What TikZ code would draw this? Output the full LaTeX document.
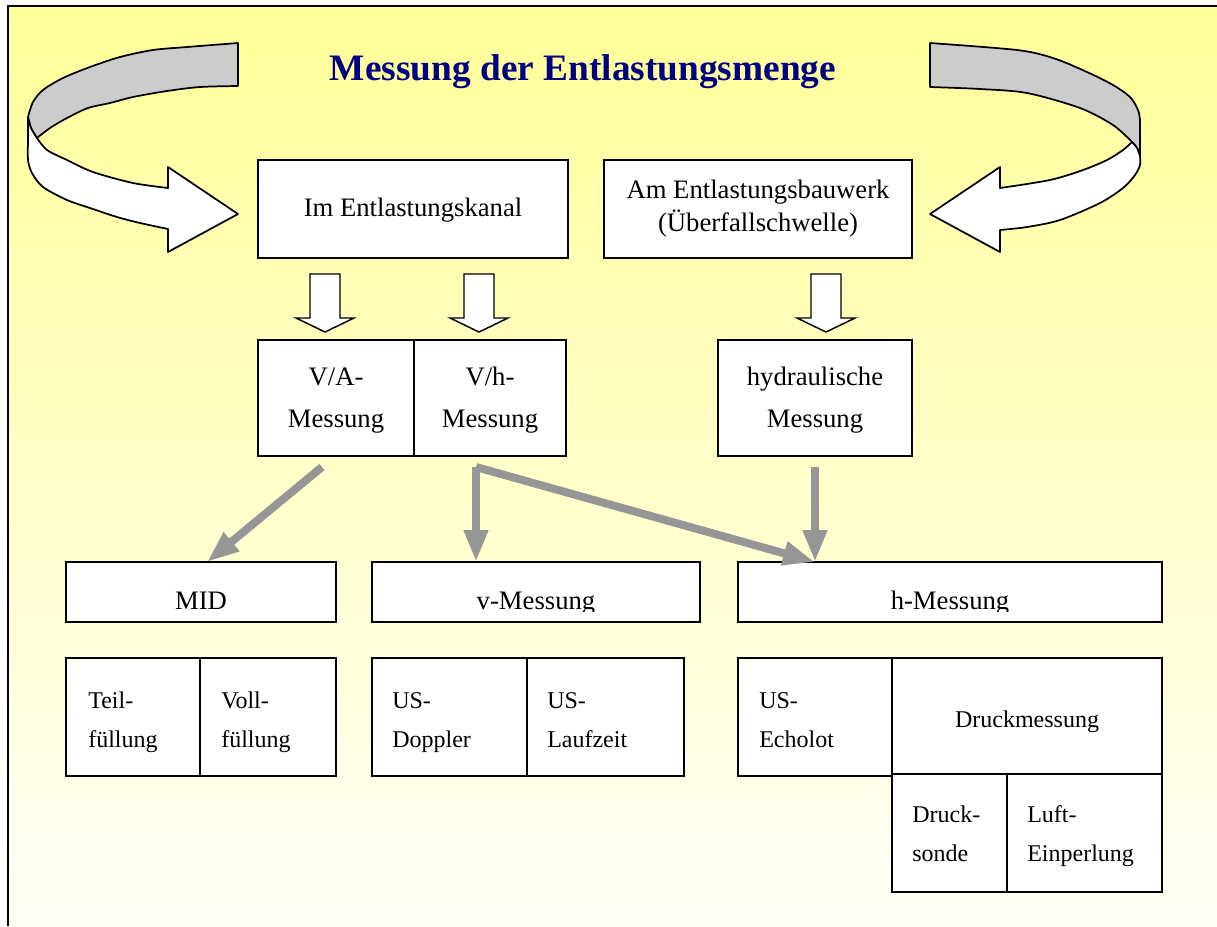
\documentclass[tikz,border=0pt]{standalone}
\usepackage{fontspec}
\setmainfont{Liberation Serif}
\usetikzlibrary{arrows.meta,calc}
\definecolor{bgtop}{HTML}{FFFF99}
\definecolor{bgbot}{HTML}{FFFFF8}
\definecolor{ribbon}{HTML}{CCCCCC}
\definecolor{arrowgray}{HTML}{969696}
\definecolor{titleblue}{HTML}{000080}
\begin{document}
\begin{tikzpicture}[x=0.75pt,y=-0.75pt,
 bx/.style 2 args={draw, fill=white, line width=1.1pt, inner sep=0pt, outer sep=0pt, minimum width=#1*0.75pt, minimum height=#2*0.75pt},
 big/.style={font=\fontsize{20}{24}\selectfont, inner sep=0pt, anchor=base},
 small/.style={font=\fontsize{18}{22}\selectfont, inner sep=0pt, anchor=base west},
 smallc/.style={font=\fontsize{18}{22}\selectfont, inner sep=0pt, anchor=base},
 grayarrow/.style={draw=arrowgray, line width=6pt, -{Triangle[length=24pt,width=17pt]}},
 blockarrow/.style={draw=black, fill=white, line width=1.1pt, line join=miter},
 ribbonline/.style={draw=black, line width=1.3pt, line join=round}
]
\useasboundingbox (0,0) rectangle (1217,926);
\fill[white] (0,0) rectangle (1217,926);
\shade[top color=bgtop, bottom color=bgbot] (8,6) rectangle (1217,926);
\draw[line width=1.5pt] (8,926) -- (8,6) -- (1217,6);

% left ribbon arrow
\draw[ribbonline, fill=ribbon] (238,43) -- (238,86)
 -- plot[smooth] coordinates {(238,86) (200,87) (167,91) (133,97) (110,103) (88,108) (67,118) (50,128) (37,138)}
 -- plot[smooth] coordinates {(37,138) (31,128) (28,117)}
 -- plot[smooth] coordinates {(28,117) (33,102) (43,90) (63,78) (90,67) (120,57) (153,50) (187,47) (238,43)}
 -- cycle;
\draw[ribbonline, fill=white] (28,117)
 -- plot[smooth] coordinates {(28,117) (28,140) (28,160) (32,173) (43,187) (67,200) (90,208) (117,217) (140,223) (168,229)}
 -- (168,252) -- (238,214) -- (168,167) -- (168,188)
 -- plot[smooth] coordinates {(168,188) (133,183) (93,172) (67,160) (47,150) (37,138)}
 -- plot[smooth] coordinates {(37,138) (31,128) (28,117)}
 -- cycle;

% right ribbon arrow
\draw[ribbonline, fill=ribbon] (930,43) -- (930,87)
 -- plot[smooth] coordinates {(930,87) (980,89) (1027,93) (1080,108) (1113,125) (1132,142)}
 -- plot[smooth] coordinates {(1132,142) (1137,148) (1140,156)}
 -- (1140,120)
 -- plot[smooth] coordinates {(1140,120) (1138,110) (1130,97) (1113,85) (1087,72) (1053,58) (1017,50) (930,43)}
 -- cycle;
\draw[ribbonline, fill=white] (1132,142)
 -- plot[smooth] coordinates {(1132,142) (1137,148) (1140,156)}
 -- plot[smooth] coordinates {(1140,156) (1140,165) (1135,175) (1123,188) (1100,203) (1060,220) (1027,227) (1000,230)}
 -- (1000,252) -- (930,214) -- (1000,167) -- (1000,188)
 -- plot[smooth] coordinates {(1000,188) (1050,180) (1083,170) (1107,160) (1123,150) (1132,142)}
 -- cycle;

% title
\node[font=\bfseries\fontsize{28}{34}\selectfont, text=titleblue, inner sep=0pt, anchor=base] (title) at (583,80) {Messung der Entlastungsmenge};

% boxes
\node[bx={310}{98}] (im) at (413,209) {};
\node[bx={308}{98}] (am) at (758,209) {};
\node[bx={156}{116}] (va) at (336,398) {};
\node[bx={152}{116}] (vh) at (490,398) {};
\node[bx={194}{116}] (hyd) at (815,398) {};
\node[bx={270}{60}] (mid) at (201,592) {};
\node[bx={328}{60}] (vmess) at (536,592) {};
\node[bx={424}{60}] (hmess) at (950,592) {};
\node[bx={134}{118}] (teil) at (133,717) {};
\node[bx={136}{118}] (voll) at (268,717) {};
\node[bx={155}{118}] (dop) at (449.5,717) {};
\node[bx={157}{118}] (lauf) at (605.5,717) {};
\node[bx={154}{118}] (echo) at (815,717) {};
\node[bx={270}{116}] (druckm) at (1027,716) {};
\node[bx={115}{118}] (sonde) at (949.5,833) {};
\node[bx={155}{118}] (luft) at (1084.5,833) {};

% white block arrows
\foreach \cx in {325,479,826}{
 \draw[blockarrow] (\cx-15,274) -- (\cx+15,274) -- (\cx+15,318) -- (\cx+29,318) -- (\cx,332) -- (\cx-29,318) -- (\cx-15,318) -- cycle;
}

% gray connectors
\draw[grayarrow] ($(va.south)+(-14,11)$) -- ($(mid.north)+(6,0)$);
\draw[grayarrow] ($(vh.south)+(-14,11)$) -- ($(vmess.north)+(-60,0)$);
\draw[grayarrow] ($(vh.south)+(-14,11)$) -- ($(hmess.north)+(-135,0)$);
\draw[grayarrow] ($(hyd.south)+(0,11)$) -- ($(hmess.north)+(-135,0)$);

% texts
\node[big] (im-t) at (413,216) {Im Entlastungskanal};
\node[big] (am-t1) at (758,198) {Am Entlastungsbauwerk};
\node[big] (am-t2) at (758,231) {(Überfallschwelle)};
\node[big] (va-t1) at (336,385) {V/A-};
\node[big] (va-t2) at (336,427) {Messung};
\node[big] (vh-t1) at (490,385) {V/h-};
\node[big] (vh-t2) at (490,427) {Messung};
\node[big] (hyd-t1) at (815,385) {hydraulische};
\node[big] (hyd-t2) at (815,427) {Messung};
\begin{scope}
 \clip (60,560) rectangle (1170,611.5);
 \node[big] (mid-t) at (201,609) {MID};
 \node[big] (vmess-t) at (536,609) {v-Messung};
 \node[big] (hmess-t) at (950,609) {h-Messung};
\end{scope}
\node[small] (teil-t1) at (88,708) {Teil-};
\node[small] (teil-t2) at (88,747) {füllung};
\node[small] (voll-t1) at (221,708) {Voll-};
\node[small] (voll-t2) at (221,747) {füllung};
\node[small] (dop-t1) at (392,708) {US-};
\node[small] (dop-t2) at (392,747) {Doppler};
\node[small] (lauf-t1) at (547,708) {US-};
\node[small] (lauf-t2) at (547,747) {Laufzeit};
\node[small] (echo-t1) at (759,708) {US-};
\node[small] (echo-t2) at (759,747) {Echolot};
\node[smallc] (druckm-t) at (1027,727) {Druckmessung};
\node[small] (sonde-t1) at (912,822) {Druck-};
\node[small] (sonde-t2) at (912,861) {sonde};
\node[small] (luft-t1) at (1027,822) {Luft-};
\node[small] (luft-t2) at (1027,861) {Einperlung};
\end{tikzpicture}
\end{document}
